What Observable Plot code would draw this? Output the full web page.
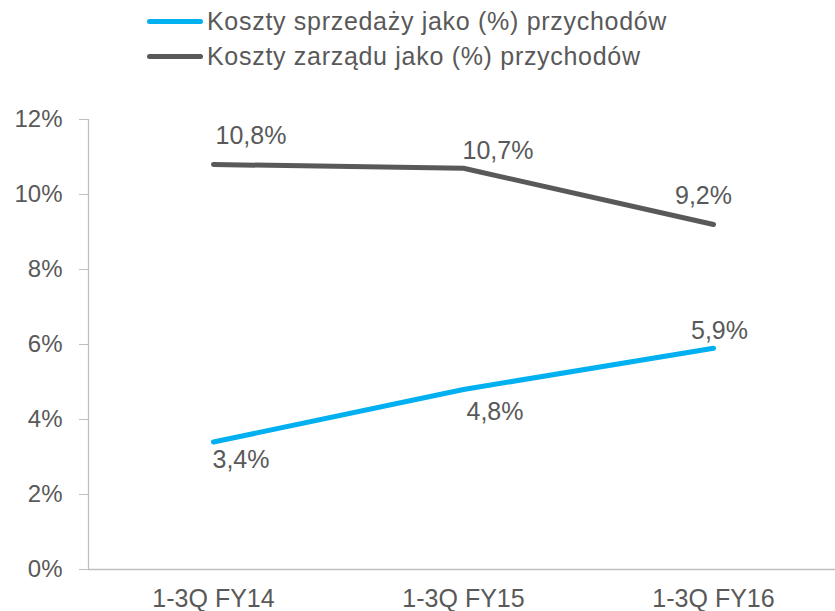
<!DOCTYPE html>
<html>
<head>
<meta charset="utf-8">
<script src="https://cdn.jsdelivr.net/npm/d3@7"></script>
<script src="https://cdn.jsdelivr.net/npm/@observablehq/plot@0.6"></script>
<style>
  html, body { margin: 0; padding: 0; background: #fff; }
  body { width: 835px; height: 611px; overflow: hidden; font-family: "Liberation Sans", Arial, sans-serif; }
  #legend { position: relative; height: 80px; width: 835px; }
  .item { position: absolute; left: 147px; display: flex; align-items: center; height: 30px; }
  .sw { width: 56px; height: 5px; border-radius: 3px; margin-right: 4px; }
  .lab { font-size: 25px; color: #595959; letter-spacing: 0.7px; white-space: nowrap; }
  svg { display: block; }
</style>
</head>
<body>
<div id="legend"></div>
<div id="chart"></div>
<script>
const categories = ["1-3Q FY14", "1-3Q FY15", "1-3Q FY16"];
const seriesNames = ["Koszty sprzedaży jako (%) przychodów", "Koszty zarządu jako (%) przychodów"];
const sprzedaz = [3.4, 4.8, 5.9];
const zarzad = [10.8, 10.7, 9.2];
const yTicks = [0, 2, 4, 6, 8, 10, 12];
const colors = ["#00b0f0", "#595959"];

const fmt = v => v.toFixed(1).replace(".", ",") + "%";
const rowsS = sprzedaz.map((v, i) => ({i, cat: categories[i], value: v, series: seriesNames[0]}));
const rowsZ = zarzad.map((v, i) => ({i, cat: categories[i], value: v, series: seriesNames[1]}));

// Legend
const legend = document.getElementById("legend");
const legendY = [21, 56];
seriesNames.forEach((name, k) => {
  const it = document.createElement("div");
  it.className = "item";
  it.style.top = (legendY[k] - 15) + "px";
  it.innerHTML = `<div class="sw" style="background:${colors[k]}"></div><span class="lab">${name}</span>`;
  legend.appendChild(it);
});

const textColor = "#595959";
const axisColor = "#bfbfbf";
const fontSize = 25;

function label(rows, idx, opts) {
  return Plot.text(rows.filter(d => d.i === idx), {
    x: "i", y: "value", text: d => fmt(d.value),
    fill: textColor, fontSize, ...opts
  });
}

const chart = Plot.plot({
  width: 835,
  height: 531,
  marginLeft: 88,
  marginRight: 0,
  marginTop: 39,
  marginBottom: 42,
  style: { fontFamily: "'Liberation Sans', Arial, sans-serif", color: textColor, background: "#fff" },
  x: { type: "linear", domain: [-0.5, 2.5], range: [88, 838] },
  y: { domain: [0, 12], range: [489, 39] },
  marks: [
    Plot.ruleX([-0.5], { stroke: axisColor, strokeWidth: 1.3 }),
    Plot.ruleY([0], { stroke: axisColor, strokeWidth: 1.3 }),
    Plot.axisY({ ticks: yTicks, tickFormat: d => d + "%", tickSize: 9, tickPadding: 17, fontSize: 24, stroke: axisColor, fill: textColor, label: null }),
    Plot.axisX({ ticks: [0, 1, 2], tickFormat: i => categories[i], tickSize: 0, tickPadding: 20, fontSize: 25, fill: textColor, label: null }),
    Plot.line(rowsZ, { x: "i", y: "value", stroke: colors[1], strokeWidth: 5, strokeLinecap: "round", strokeLinejoin: "round" }),
    Plot.line(rowsS, { x: "i", y: "value", stroke: colors[0], strokeWidth: 5, strokeLinecap: "round", strokeLinejoin: "round" }),
    label(rowsZ, 0, { textAnchor: "start", dx: 2, dy: -29 }),
    label(rowsZ, 1, { textAnchor: "start", dx: -1, dy: -17 }),
    label(rowsZ, 2, { textAnchor: "middle", dx: -10, dy: -29 }),
    label(rowsS, 2, { textAnchor: "middle", dx: 6, dy: -17 }),
    label(rowsS, 1, { textAnchor: "start", dx: 3, dy: 22 }),
    label(rowsS, 0, { textAnchor: "start", dx: -1, dy: 18 })
  ]
});
document.getElementById("chart").appendChild(chart);
</script>
</body>
</html>
